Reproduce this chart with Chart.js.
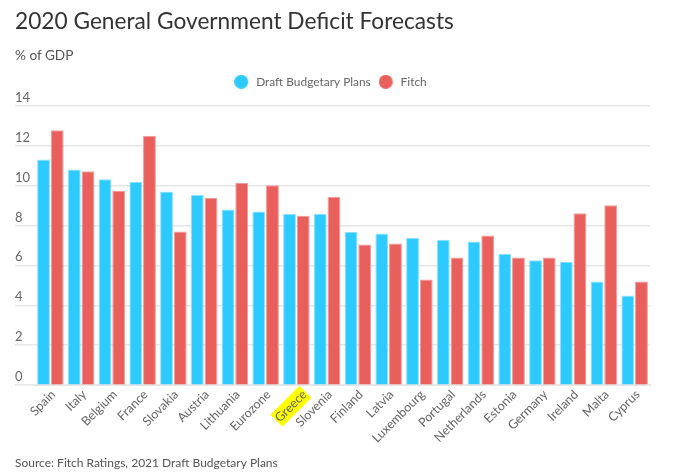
<!DOCTYPE html>
<html><head><meta charset="utf-8">
<style>html,body{margin:0;padding:0;background:#fff}#w{position:relative;width:680px;height:472px}
#u{position:absolute;left:15px;top:47px;font:13.6px Lato;color:#555}</style>
<script src="https://cdn.jsdelivr.net/npm/chart.js@4"></script></head>
<body><div id="w"><canvas id="c" width="680" height="472"></canvas><div id="u">% of GDP</div></div>
<script>
const categories=["Spain","Italy","Belgium","France","Slovakia","Austria","Lithuania","Eurozone","Greece","Slovenia","Finland","Latvia","Luxembourg","Portugal","Netherlands","Estonia","Germany","Ireland","Malta","Cyprus"];
const draftPlans=[11.3,10.8,10.32,10.18,9.7,9.53,8.8,8.7,8.57,8.57,7.69,7.6,7.37,7.29,7.2,6.58,6.26,6.18,5.19,4.49];
const fitch=[12.77,10.72,9.73,12.5,7.7,9.38,10.13,10.02,8.49,9.43,7.05,7.1,5.29,6.4,7.5,6.4,6.4,8.61,9.01,5.19];
const highlighted="Greece";
const titleText="2020 General Government Deficit Forecasts";
const sourceText="Source: Fitch Ratings, 2021 Draft Budgetary Plans";
const grid="#e6e6e6", txt="#666", blue="#2dcaff", red="#e95f5c";
function dot(col){const k=document.createElement('canvas');k.width=20;k.height=14;const g=k.getContext('2d');g.fillStyle=col;g.beginPath();g.arc(7,7,7,0,Math.PI*2);g.fill();return k}
const dots=[dot(blue),dot(red)];
const legendGap={id:'legendGap',beforeLayout(chart){const l=chart.legend;if(l&&!l._gap){l._gap=true;const f=l.fit;l.fit=function(){f.call(this);this.height+=8}}}};
new Chart(document.getElementById('c'),{type:'bar',plugins:[legendGap],
data:{labels:categories,datasets:[
{label:"Draft Budgetary Plans",data:draftPlans,backgroundColor:blue,borderColor:"#8fe2ff",borderWidth:{left:1,right:1,top:1,bottom:0}},
{label:"Fitch",data:fitch,backgroundColor:red,borderColor:"#f29a98",borderWidth:{left:1,right:1,top:1,bottom:0}}]},
options:{responsive:false,animation:false,
categoryPercentage:.89,barPercentage:.94,
layout:{padding:{left:15,right:30,top:0,bottom:0}},
plugins:{
title:{display:true,text:titleText,align:'start',color:'#333',font:{family:'Lato',size:22.7,weight:'normal'},padding:{top:8,bottom:28.6}},
subtitle:{display:true,position:'bottom',text:sourceText,align:'start',color:'#555',font:{family:'Lato',size:12,weight:'normal'},padding:{top:3.9,bottom:2}},
legend:{position:'top',labels:{usePointStyle:true,boxWidth:14,boxHeight:14,padding:12,color:txt,font:{family:'Lato',size:11.9},
generateLabels:c=>Chart.defaults.plugins.legend.labels.generateLabels(c).map((l,i)=>({...l,pointStyle:dots[i]}))}},
tooltip:{enabled:false}},
scales:{
x:{afterFit:s=>{s.height+=12},grid:{display:false},border:{display:true,color:grid,width:2},
ticks:{autoSkip:false,maxRotation:45,minRotation:45,color:txt,font:{family:'Lato',size:12.5},padding:-6,labelOffset:3,
showLabelBackdrop:c=>categories[c.index]===highlighted,backdropColor:c=>categories[c.index]===highlighted?'#ffff00':'rgba(0,0,0,0)',backdropPadding:1}},
y:{min:0,max:14,afterFit:s=>{s.width=20},
grid:{color:grid,lineWidth:1.5,tickLength:20,tickColor:grid},border:{display:false},
ticks:{stepSize:2,crossAlign:'far',padding:0,color:txt,font:{family:'Lato',size:13,lineHeight:1.25},callback:v=>[String(v),'']}}
}}});
</script></body></html>
